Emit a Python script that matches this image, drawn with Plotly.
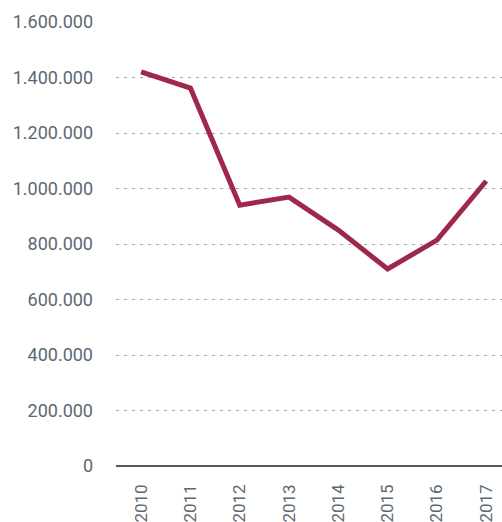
import plotly.graph_objects as go

years = ["2010", "2011", "2012", "2013", "2014", "2015", "2016", "2017"]
values = [1420000, 1362000, 940000, 969000, 850000, 710000, 814000, 1027000]
y_ticks = [0, 200000, 400000, 600000, 800000, 1000000, 1200000, 1400000, 1600000]

font_family = "Roboto, sans-serif"
text_color = "#5b6872"

fig = go.Figure(go.Scatter(
    x=years, y=values, mode="lines",
    line=dict(color="#9e2849", width=5),
))

fig.update_layout(
    width=502, height=522,
    margin=dict(l=116, r=0, t=22, b=56),
    paper_bgcolor="white", plot_bgcolor="white",
    separators=",.",
    showlegend=False,
    font=dict(family=font_family, color=text_color),
)
fig.update_xaxes(
    type="category",
    range=[-0.51, 7.32],
    tickangle=-90,
    tickfont=dict(size=17, color=text_color),
    showgrid=False,
    showline=False,
    ticks="",
    ticklabelstandoff=14,
    zeroline=False,
    automargin=False,
)
fig.update_yaxes(
    range=[0, 1600000],
    tickvals=y_ticks,
    tickformat=",d",
    tickfont=dict(size=18, color=text_color),
    showgrid=True, gridcolor="#a6a6a6", griddash="3px,5px", gridwidth=1,
    zeroline=True, zerolinecolor="#4f5b64", zerolinewidth=2,
    ticklabelstandoff=22,
    showline=False,
    automargin=False,
)
fig.write_html(
    "out.html",
    config={"displayModeBar": False},
    post_script="document.body.style.margin='0';document.body.style.overflow='hidden';",
)
